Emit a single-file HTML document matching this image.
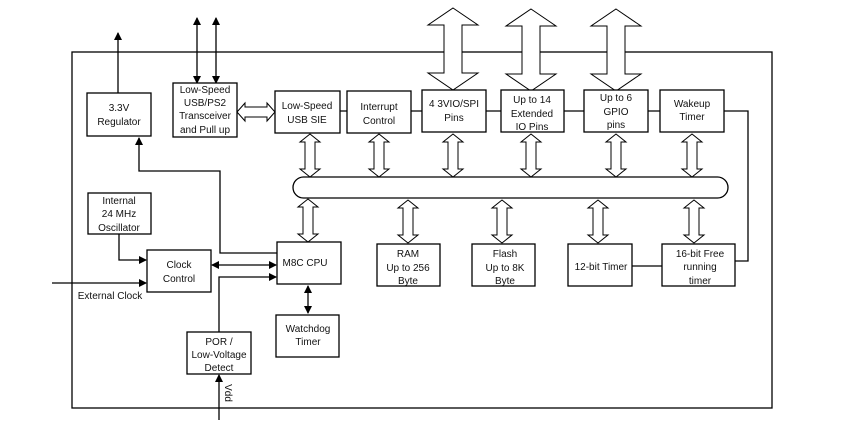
<!DOCTYPE html>
<html><head><meta charset="utf-8"><style>
html,body{margin:0;padding:0;background:#fff;}
svg{display:block;}
text{font-family:"Liberation Sans",sans-serif;font-size:10px;fill:#111;text-anchor:middle;}
</style></head><body>
<svg width="852" height="448" viewBox="0 0 852 448" xmlns="http://www.w3.org/2000/svg">
<defs>
<marker id="ah" markerWidth="8" markerHeight="8" refX="7" refY="4" orient="auto-start-reverse" markerUnits="userSpaceOnUse">
<path d="M0,0 L8,4 L0,8 z" fill="#000"/></marker>
<polygon id="sa" points="0,0 10,8 5,8 5,35 10,35 0,43 -10,35 -5,35 -5,8 -10,8" fill="#fff" stroke="#000" stroke-width="1"/>
<polygon id="ba" points="0,0 25,17 9,17 9,65 25,65 0,82 -25,65 -9,65 -9,17 -25,17" fill="#fff" stroke="#000" stroke-width="1"/>
</defs>
<g stroke="#000" stroke-width="1.3" fill="none">
<rect x="72" y="52" width="700" height="356"/>
<line x1="340" y1="111" x2="660" y2="111"/>
<polyline points="724,111 748,111 748,261 735,261"/>
<line x1="632" y1="266" x2="662" y2="266"/>
<line x1="118" y1="93" x2="118" y2="33" marker-end="url(#ah)"/>
<line x1="197" y1="83" x2="197" y2="18" marker-start="url(#ah)" marker-end="url(#ah)"/>
<line x1="216" y1="83" x2="216" y2="18" marker-start="url(#ah)" marker-end="url(#ah)"/>
<polyline points="277,253 220,253 220,171 139,171 139,138" marker-end="url(#ah)"/>
<polyline points="119,234 119,260 146,260" marker-end="url(#ah)"/>
<line x1="52" y1="283" x2="146" y2="283" marker-end="url(#ah)"/>
<line x1="212" y1="265" x2="276" y2="265" marker-start="url(#ah)" marker-end="url(#ah)"/>
<polyline points="219,332 219,277 276,277" marker-end="url(#ah)"/>
<line x1="308" y1="286" x2="308" y2="313" marker-start="url(#ah)" marker-end="url(#ah)"/>
<line x1="219" y1="420" x2="219" y2="375" marker-end="url(#ah)"/>
</g>
<use href="#ba" x="453" y="8"/>
<use href="#ba" x="531" y="9"/>
<use href="#ba" x="616" y="9"/>
<polygon points="237,112 245,103 245,107 267,107 267,103 275,112 267,121 267,117 245,117 245,121" fill="#fff" stroke="#000"/>
<rect x="293" y="177" width="435" height="21" rx="10.5" fill="#fff" stroke="#000" stroke-width="1.3"/>
<use href="#sa" x="310" y="134"/><use href="#sa" x="379" y="134"/><use href="#sa" x="453" y="134"/>
<use href="#sa" x="531" y="134"/><use href="#sa" x="616" y="134"/><use href="#sa" x="692" y="134"/>
<use href="#sa" x="308" y="199"/><use href="#sa" x="408" y="200"/><use href="#sa" x="502" y="200"/>
<use href="#sa" x="598" y="200"/><use href="#sa" x="694" y="200"/>
<g fill="#fff" stroke="#000" stroke-width="1.3">
<rect x="87" y="93" width="64" height="43"/>
<rect x="173" y="83" width="64" height="54"/>
<rect x="275" y="91" width="65" height="42"/>
<rect x="347" y="91" width="64" height="42"/>
<rect x="422" y="90" width="64" height="42"/>
<rect x="501" y="90" width="63" height="42"/>
<rect x="584" y="90" width="64" height="42"/>
<rect x="660" y="90" width="64" height="42"/>
<rect x="88" y="193" width="63" height="41"/>
<rect x="147" y="250" width="64" height="42"/>
<rect x="277" y="242" width="64" height="42"/>
<rect x="276" y="315" width="63" height="42"/>
<rect x="187" y="332" width="64" height="42"/>
<rect x="377" y="244" width="63" height="42"/>
<rect x="472" y="244" width="63" height="42"/>
<rect x="568" y="244" width="64" height="42"/>
<rect x="662" y="244" width="73" height="42"/>
</g>
<text x="119" y="111">3.3V</text><text x="119" y="125">Regulator</text>
<text x="205" y="93">Low-Speed</text><text x="205" y="106">USB/PS2</text><text x="205" y="119">Transceiver</text><text x="205" y="133">and Pull up</text>
<text x="307" y="109">Low-Speed</text><text x="307" y="123">USB SIE</text>
<text x="379" y="110">Interrupt</text><text x="379" y="124">Control</text>
<text x="454" y="107">4 3VIO/SPI</text><text x="454" y="121">Pins</text>
<text x="532" y="103">Up to 14</text><text x="532" y="117">Extended</text><text x="532" y="130">IO Pins</text>
<text x="616" y="101">Up to 6</text><text x="616" y="115">GPIO</text><text x="616" y="128">pins</text>
<text x="692" y="107">Wakeup</text><text x="692" y="120">Timer</text>
<text x="119" y="204">Internal</text><text x="119" y="217">24 MHz</text><text x="119" y="231">Oscillator</text>
<text x="179" y="268">Clock</text><text x="179" y="282">Control</text>
<text x="110" y="299">External Clock</text>
<text x="305" y="266">M8C CPU</text>
<text x="308" y="332">Watchdog</text><text x="308" y="345">Timer</text>
<text x="219" y="345">POR /</text><text x="219" y="358">Low-Voltage</text><text x="219" y="371">Detect</text>
<text x="408" y="257">RAM</text><text x="408" y="271">Up to 256</text><text x="408" y="284">Byte</text>
<text x="505" y="257">Flash</text><text x="505" y="271">Up to 8K</text><text x="505" y="284">Byte</text>
<text x="601" y="270">12-bit Timer</text>
<text x="700" y="257">16-bit Free</text><text x="700" y="270">running</text><text x="700" y="284">timer</text>
<text x="0" y="0" transform="translate(225,393) rotate(90)">Vdd</text>
</svg>
</body></html>
